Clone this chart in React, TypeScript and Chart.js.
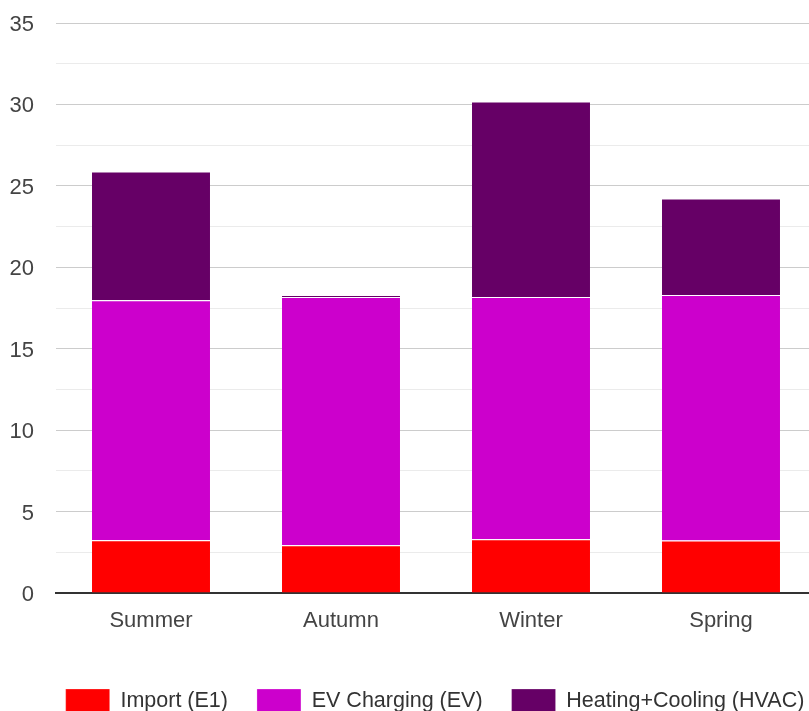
import React, { useEffect, useRef } from "react";
import { Chart, registerables } from "chart.js";

Chart.register(...registerables);

const seasons = ["Summer", "Autumn", "Winter", "Spring"];
const importE1 = [3.24, 2.93, 3.3, 3.23];
const evCharging = [14.74, 15.24, 14.87, 15.07];
const hvac = [7.9, 0.12, 12.01, 5.92];
const seriesLabels = ["Import (E1)", "EV Charging (EV)", "Heating+Cooling (HVAC)"];
const seriesColors = ["#ff0000", "#cc00cc", "#660066"];

export default function App() {
  const ref = useRef<HTMLCanvasElement | null>(null);
  useEffect(() => {
    document.body.style.margin = "0";
    document.body.style.overflow = "hidden";
    const canvas = ref.current;
    if (!canvas) return;
    const family = "'Liberation Sans', Arial, sans-serif";
    const font = { family, size: 22 };
    const chart = new Chart(canvas, {
      type: "bar",
      data: {
        labels: seasons,
        datasets: [importE1, evCharging, hvac].map((d, i) => ({
          label: seriesLabels[i],
          data: d,
          backgroundColor: seriesColors[i],
          borderColor: "#ffffff",
          borderWidth: { top: 1, left: 0, right: 0, bottom: 0 },
          borderSkipped: false,
          barPercentage: 0.621,
          categoryPercentage: 1,
          yAxisID: "y",
        })),
      },
      options: {
        responsive: false,
        animation: false,
        layout: { padding: { left: 0, top: 23, right: 0, bottom: 0 } },
        plugins: {
          legend: {
            position: "bottom",
            labels: {
              font: { family, size: 21.5 },
              color: "#333",
              boxWidth: 44,
              boxHeight: 24,
              padding: 29,
            },
          },
          tooltip: { enabled: false },
        },
        scales: {
          x: {
            stacked: true,
            grid: { display: false, drawTicks: false },
            border: { display: true, color: "#333", width: 2 },
            ticks: { font, color: "#444", padding: 15 },
            afterFit: (s: any) => {
              s.height = 67;
              s.paddingLeft = 0;
              s.paddingRight = 0;
            },
          },
          y: {
            stacked: true,
            min: 0,
            max: 35,
            grid: {
              drawTicks: false,
              color: (ctx: any) =>
                ctx.tick && Math.abs(ctx.tick.value % 5) < 1e-6 ? "#cccccc" : "#ebebeb",
              lineWidth: 1,
            },
            border: { display: false },
            ticks: {
              stepSize: 2.5,
              font,
              color: "#444",
              padding: 22,
              labelOffset: 2,
              callback: (v: any) => (Math.abs(Number(v) % 5) < 1e-6 ? String(v) : ""),
            },
            afterFit: (s: any) => {
              s.width = 56;
              s.paddingTop = 0;
              s.paddingBottom = 0;
            },
          },
          y2: {
            type: "linear",
            position: "right",
            display: true,
            grid: { display: false, drawTicks: false },
            border: { display: false },
            ticks: { display: false },
            afterFit: (s: any) => {
              s.width = 54;
              s.paddingTop = 0;
              s.paddingBottom = 0;
            },
          },
        },
      },
    });
    return () => chart.destroy();
  }, []);
  return (
    <div style={{ position: "fixed", left: 0, top: 0, width: 809, height: 711, overflow: "hidden", background: "#fff" }}>
      <canvas ref={ref} width={870} height={723} style={{ position: "absolute", left: 0, top: 0 }} />
    </div>
  );
}
